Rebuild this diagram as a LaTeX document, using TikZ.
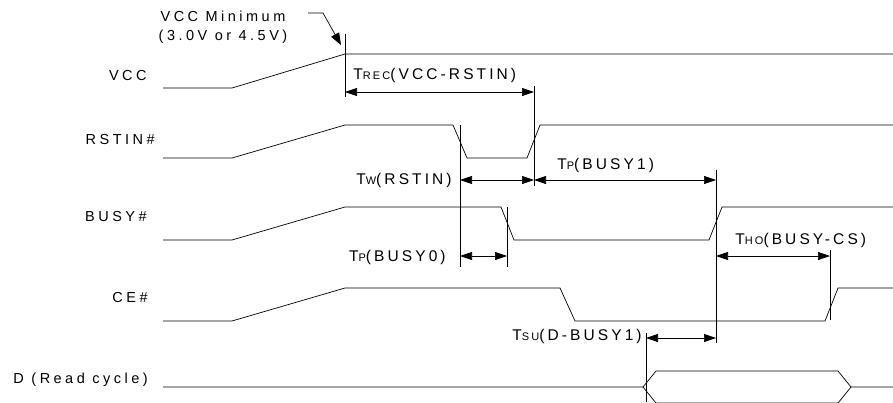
\documentclass[tikz,border=0pt]{standalone}
\usepackage{fontspec}
\setmainfont{Liberation Sans}
\newfontfamily\timefont[LetterSpace=20]{Liberation Sans}
\newfontfamily\signalfont[LetterSpace=24]{Liberation Sans}
\usetikzlibrary{arrows.meta}
\newcommand{\tsub}[1]{{\fontsize{11}{12}\selectfont #1}}
\begin{document}
\begin{tikzpicture}[x=1pt, y=-1pt, line width=0.7pt,
  txt/.style={font=\timefont\fontsize{15.5}{18}\selectfont, inner sep=0pt},
  sig/.style={font=\signalfont\fontsize{14.5}{19}\selectfont, inner sep=0pt, anchor=east},
  dim/.style={{Triangle[length=12pt,width=8pt]}-{Triangle[length=12pt,width=8pt]}}]
\useasboundingbox (0,0) rectangle (893,402);
% Signal names
\node[sig] (vcc) at (147,76) {VCC};
\node[sig] (rstin) at (155,140) {RSTIN\#};
\node[sig] (busy) at (147,217) {BUSY\#};
\node[sig] (ce) at (148,298) {CE\#};
\node[sig] (d) at (148,380) {D (Read cycle)};
% Waveforms
\draw (163,88) -- (232,88) -- (345,54) -- (893,54);
\draw (163,158) -- (232,158) -- (345,125) -- (453,125) -- (467,158) -- (527,158) -- (540,125) -- (893,125);
\draw (163,240) -- (232,240) -- (345,207) -- (501,207) -- (514,240) -- (709,240) -- (722,207) -- (893,207);
\draw (163,321) -- (232,321) -- (345,288) -- (560,288) -- (575,321) -- (825,321) -- (838,288) -- (893,288);
\draw (163,387) -- (643,387) -- (656,371) -- (838,371) -- (851,387) -- (893,387);
\draw (643,387) -- (656,403) -- (838,403) -- (851,387);
% Reference lines
\draw (345,34) -- (345,97);
\draw (460,125) -- (460,267);
\draw (534,86) -- (534,186);
\draw (507,207) -- (507,267);
\draw (716,170) -- (716,343);
\draw (830,250) -- (830,320);
\draw (646,333) -- (646,402);
% Dimension ends
\coordinate (rec1) at (345,92);
\coordinate (rec2) at (534,92);
\coordinate (w1) at (460,180);
\coordinate (w2) at (534,180);
\coordinate (p1b) at (716,180);
\coordinate (p0a) at (460,256);
\coordinate (p0b) at (507,256);
\coordinate (ho1) at (716,256);
\coordinate (ho2) at (830,256);
\coordinate (su1) at (646,338);
\coordinate (su2) at (716,338);
\draw[dim] (rec1) -- (rec2);
\draw[dim] (w1) -- (w2);
\draw[dim] (w2) -- (p1b);
\draw[dim] (p0a) -- (p0b);
\draw[dim] (ho1) -- (ho2);
\draw[dim] (su1) -- (su2);
% Timing labels
\node[txt, anchor=west] (trec) at (353,75) {T\tsub{REC}(VCC-RSTIN)};
\node[txt, anchor=east] (tw) at (452,180) {T\tsub{W}(RSTIN)};
\node[txt, anchor=west] (tp1) at (557,165) {T\tsub{P}(BUSY1)};
\node[txt, anchor=east] (tp0) at (446,257) {T\tsub{P}(BUSY0)};
\node[txt, anchor=west] (tho) at (735,240) {T\tsub{HO}(BUSY-CS)};
\node[txt, anchor=east] (tsu) at (642,336) {T\tsub{SU}(D-BUSY1)};
% VCC minimum
\node[sig, anchor=center, align=center] (vmin) at (223,27) {VCC Minimum\\(3.0V or 4.5V)};
\coordinate (vstart) at (308,13);
\coordinate (vbend) at (323,13);
\coordinate (vtip) at (341,45);
\draw[-{Triangle[length=12pt,width=9pt]}] (vstart) -- (vbend) -- (vtip);
\end{tikzpicture}
\end{document}
